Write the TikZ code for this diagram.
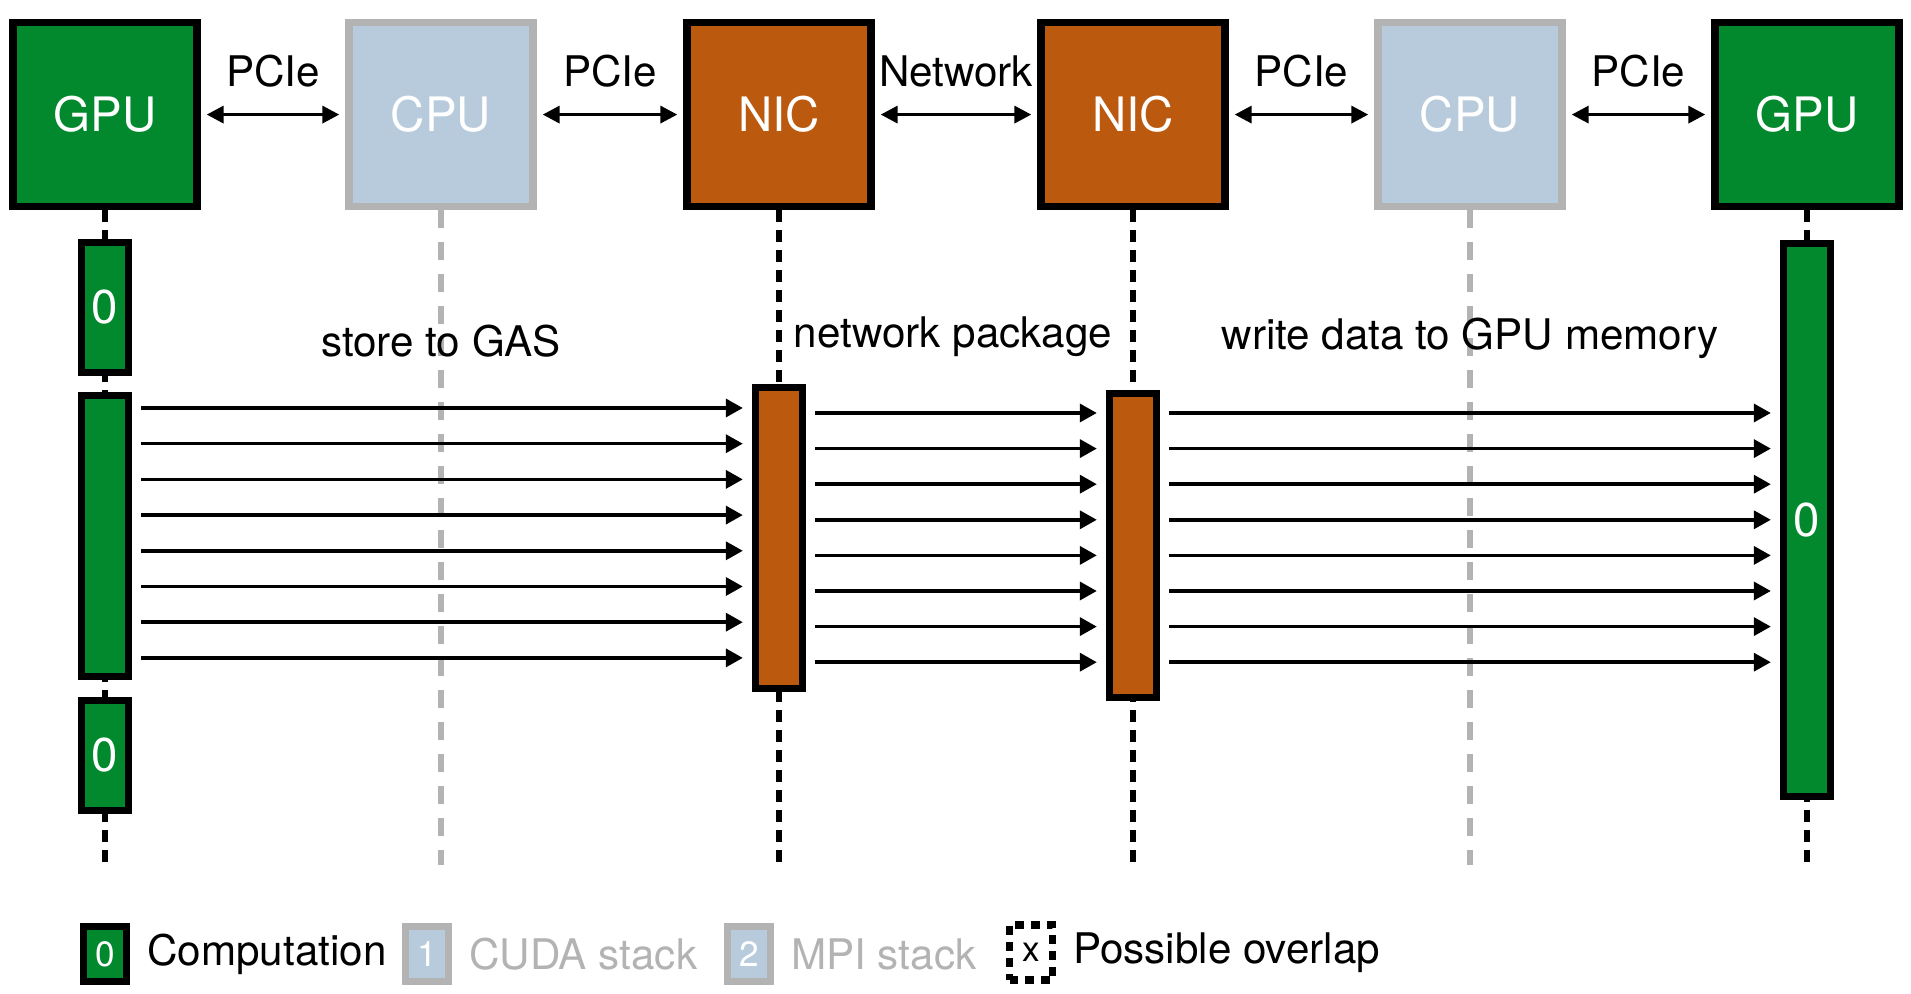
\documentclass[tikz,border=0pt]{standalone}
\usepackage{fontspec}
\setmainfont{TeX Gyre Heros}
\usepackage{xcolor}
\usetikzlibrary{arrows.meta,positioning,calc}
\definecolor{gpugreen}{HTML}{02892E}
\definecolor{cpublue}{HTML}{B8CBDC}
\definecolor{cpugray}{HTML}{B3B3B3}
\definecolor{nicorange}{HTML}{BB5A0E}

\begin{document}
\begin{tikzpicture}[
    x=1cm,y=1cm,
    unit/.style  = {rectangle,line width=2.1pt,minimum size=1.84cm,inner sep=0pt,
                    text=white,font=\fontsize{13.5}{16}\selectfont},
    gpu/.style   = {unit,draw=black,fill=gpugreen},
    cpu/.style   = {unit,draw=cpugray,fill=cpublue},
    nic/.style   = {unit,draw=black,fill=nicorange},
    act/.style   = {rectangle,line width=2.1pt,draw=black,minimum width=0.47cm,
                    inner sep=0pt,text=white,font=\fontsize{13.5}{16}\selectfont},
    vie/.style   = {line width=1.6pt,dash pattern=on 0.12cm off 0.08cm},
    viegr/.style = {line width=1.6pt,cpugray,dash pattern=on 0.18cm off 0.14cm},
    lien/.style  = {{Triangle[length=0.17cm,width=0.17cm]}-{Triangle[length=0.17cm,width=0.17cm]},
                    line width=1pt,shorten <=0.06cm,shorten >=0.06cm},
    fl/.style    = {-{Triangle[length=0.17cm,width=0.18cm]},line width=1pt,
                    shorten <=0.09cm,shorten >=0.09cm},
    lab/.style   = {font=\fontsize{12}{14}\selectfont,inner sep=0pt},
    leg/.style   = {rectangle,line width=2pt,minimum width=0.43cm,minimum height=0.55cm,
                    inner sep=0pt,font=\fontsize{10}{12}\selectfont},
  ]
  \useasboundingbox (0,0) rectangle (19.11,-9.94);

  % ── Composants ──────────────────────────────────────────────────────────
  \node[gpu] (gpuA) at (1.05,-1.146) {GPU};
  \node[cpu] (cpuA) at (4.41,-1.146) {CPU};
  \node[nic] (nicA) at (7.79,-1.146) {NIC};
  \node[nic] (nicB) at (11.33,-1.146) {NIC};
  \node[cpu] (cpuB) at (14.70,-1.146) {CPU};
  \node[gpu] (gpuB) at (18.07,-1.146) {GPU};

  \draw[lien] (gpuA) -- node[lab,above=0.26cm] {PCIe} (cpuA);
  \draw[lien] (cpuA) -- node[lab,above=0.26cm] {PCIe} (nicA);
  \draw[lien] (nicA) -- node[lab,above=0.26cm] {Network} (nicB);
  \draw[lien] (nicB) -- node[lab,above=0.26cm] {PCIe} (cpuB);
  \draw[lien] (cpuB) -- node[lab,above=0.26cm] {PCIe} (gpuB);

  % ── Lignes de vie ───────────────────────────────────────────────────────
  \coordinate (bas) at (0,-8.65);
  \foreach \n in {gpuA,nicA,nicB,gpuB}
    \draw[vie] (\n.south) -- (\n.south |- bas);
  \foreach \n in {cpuA,cpuB}
    \draw[viegr] (\n.south) -- (\n.south |- bas);

  % ── Activations ─────────────────────────────────────────────────────────
  \node[act,fill=gpugreen,minimum height=1.30cm]  (ga) at (gpuA |- 0,-3.075) {0};
  \node[act,fill=gpugreen,minimum height=2.81cm]  (gb) at (gpuA |- 0,-5.36) {};
  \node[act,fill=gpugreen,minimum height=1.10cm]  (gc) at (gpuA |- 0,-7.555) {0};
  \node[act,fill=nicorange,minimum height=3.01cm] (n1) at (nicA |- 0,-5.38) {};
  \node[act,fill=nicorange,minimum height=3.04cm] (n2) at (nicB |- 0,-5.455) {};
  \node[act,fill=gpugreen,minimum height=5.53cm]  (g2) at (gpuB |- 0,-5.20) {0};

  % ── Messages ────────────────────────────────────────────────────────────
  \foreach \i [evaluate=\i as \ya using -4.08-0.357*\i,
               evaluate=\i as \yb using -4.13-0.356*\i] in {0,...,7}{
    \draw[fl] (gb.east |- 0,\ya) -- (n1.west |- 0,\ya);
    \draw[fl] (n1.east |- 0,\yb) -- (n2.west |- 0,\yb);
    \draw[fl] (n2.east |- 0,\yb) -- (g2.west |- 0,\yb);
  }
  \node[lab,anchor=base] (m1) at (4.41,-3.57) {store to GAS};
  \node[lab,anchor=base] (m2) at (9.53,-3.48) {network package};
  \node[lab,anchor=base] (m3) at (14.70,-3.50) {write data to GPU memory};

  % ── Légende ─────────────────────────────────────────────────────────────
  \node[leg,draw=black,fill=gpugreen,text=white] (lg0) at (1.05,-9.54) {0};
  \node[lab,right=0.165cm of lg0] (lt0) {Computation};
  \node[leg,draw=cpugray,fill=cpublue,text=white] (lg1) at (4.27,-9.54) {1};
  \node[lab,text=cpugray,right=0.165cm of lg1] (lt1) {CUDA stack};
  \node[leg,draw=cpugray,fill=cpublue,text=white] (lg2) at (7.49,-9.54) {2};
  \node[lab,text=cpugray,right=0.165cm of lg2] (lt2) {MPI stack};
  \node[leg,draw=black,fill=white,dash pattern=on 2.5pt off 2pt] (lg3) at (10.31,-9.525) {x};
  \node[lab,right=0.165cm of lg3] (lt3) {Possible overlap};

\end{tikzpicture}
\end{document}
